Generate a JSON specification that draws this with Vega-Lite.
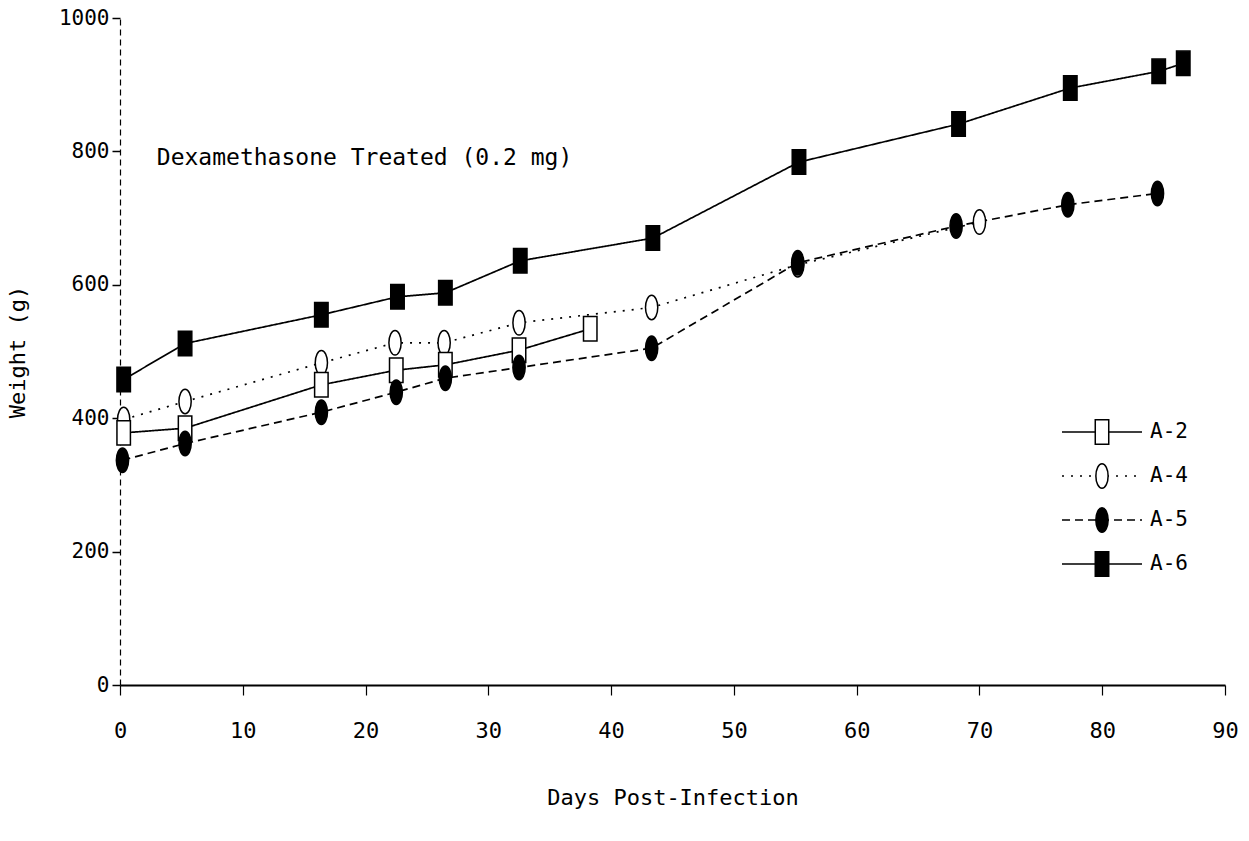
{
  "$schema": "https://vega.github.io/schema/vega-lite/v6.json",
  "autosize": "none",
  "width": 1105,
  "height": 667,
  "padding": {"left": 120, "top": 18, "right": 24, "bottom": 156},
  "background": "white",
  "config": {
    "view": {"stroke": null},
    "font": "DejaVu Sans Mono",
    "axis": {"labelFont": "DejaVu Sans Mono", "titleFont": "DejaVu Sans Mono", "labelColor": "black", "titleColor": "black", "titleFontWeight": "normal", "grid": false, "domainColor": "black", "tickColor": "black", "labelFlush": false}
  },
  "datasets": {
    "weights": [
      {"series": "A-4", "day": 0.3, "weight": 398},
      {"series": "A-4", "day": 5.3, "weight": 425},
      {"series": "A-4", "day": 16.4, "weight": 483},
      {"series": "A-4", "day": 22.4, "weight": 513},
      {"series": "A-4", "day": 26.4, "weight": 513},
      {"series": "A-4", "day": 32.5, "weight": 543},
      {"series": "A-4", "day": 43.3, "weight": 566},
      {"series": "A-4", "day": 55.2, "weight": 630},
      {"series": "A-4", "day": 70.0, "weight": 694},
      {"series": "A-2", "day": 0.3, "weight": 378},
      {"series": "A-2", "day": 5.3, "weight": 385},
      {"series": "A-2", "day": 16.4, "weight": 450},
      {"series": "A-2", "day": 22.5, "weight": 472},
      {"series": "A-2", "day": 26.5, "weight": 480},
      {"series": "A-2", "day": 32.5, "weight": 502},
      {"series": "A-2", "day": 38.3, "weight": 534},
      {"series": "A-5", "day": 0.2, "weight": 337},
      {"series": "A-5", "day": 5.3, "weight": 362},
      {"series": "A-5", "day": 16.4, "weight": 409},
      {"series": "A-5", "day": 22.5, "weight": 439},
      {"series": "A-5", "day": 26.5, "weight": 460},
      {"series": "A-5", "day": 32.5, "weight": 476},
      {"series": "A-5", "day": 43.3, "weight": 505},
      {"series": "A-5", "day": 55.2, "weight": 633},
      {"series": "A-5", "day": 68.1, "weight": 688},
      {"series": "A-5", "day": 77.2, "weight": 720},
      {"series": "A-5", "day": 84.5, "weight": 737},
      {"series": "A-6", "day": 0.3, "weight": 458},
      {"series": "A-6", "day": 5.3, "weight": 512},
      {"series": "A-6", "day": 16.4, "weight": 555},
      {"series": "A-6", "day": 22.6, "weight": 582},
      {"series": "A-6", "day": 26.5, "weight": 588},
      {"series": "A-6", "day": 32.6, "weight": 636},
      {"series": "A-6", "day": 43.4, "weight": 670},
      {"series": "A-6", "day": 55.3, "weight": 784},
      {"series": "A-6", "day": 68.3, "weight": 841},
      {"series": "A-6", "day": 77.4, "weight": 895},
      {"series": "A-6", "day": 84.6, "weight": 920},
      {"series": "A-6", "day": 86.6, "weight": 932}
    ],
    "note": [
      {"day": 3.0, "weight": 790, "label": "Dexamethasone Treated (0.2 mg)"}
    ]
  },
  "encoding": {
    "x": {
      "field": "day", "type": "quantitative",
      "scale": {"domain": [0, 90], "nice": false, "zero": false},
      "axis": {
        "title": "Days Post-Infection", "values": [0, 10, 20, 30, 40, 50, 60, 70, 80, 90],
        "labelFontSize": 22, "titleFontSize": 22, "tickSize": 10, "labelPadding": 25,
        "titlePadding": 46, "domainWidth": 2, "tickWidth": 1.2, "labelFlush": false
      }
    },
    "y": {
      "field": "weight", "type": "quantitative",
      "scale": {"domain": [0, 1000], "nice": false},
      "axis": {
        "title": "Weight (g)", "values": [0, 200, 400, 600, 800, 1000], "format": "d",
        "labelFontSize": 21, "titleFontSize": 22, "tickSize": 8, "labelPadding": 3,
        "titlePadding": 29, "domainDash": [6, 4], "domainWidth": 1.2, "tickWidth": 1.5, "labelFlush": false
      }
    }
  },
  "layer": [
    {
      "data": {"name": "weights"},
      "mark": {"type": "line", "color": "black", "strokeWidth": 1.7},
      "encoding": {
        "detail": {"field": "series"},
        "strokeDash": {
          "field": "series", "type": "nominal",
          "scale": {"range": [[1, 0], [2, 7], [8, 5], [1, 0]]},
          "legend": {
            "orient": "none", "legendX": 941, "legendY": 392, "title": null,
            "symbolType": "stroke", "symbolSize": 6400, "symbolStrokeWidth": 1.7,
            "symbolStrokeColor": "black", "clipHeight": 44, "rowPadding": 0,
            "labelFont": "DejaVu Sans Mono", "labelFontSize": 21, "labelColor": "black",
            "labelOffset": 7, "padding": 0
          }
        }
      }
    },
    {
      "data": {"name": "weights"},
      "mark": {"type": "point", "filled": true, "stroke": "black", "strokeWidth": 1.5, "size": 600, "opacity": 1},
      "encoding": {
        "shape": {
          "field": "series", "type": "nominal",
          "scale": {
            "domain": ["A-2", "A-4", "A-5", "A-6"],
            "range": ["M-0.55,-1H0.55V1H-0.55Z", "M0,-1A0.5,1 0 1,1 0,1A0.5,1 0 1,1 0,-1Z", "M0,-1A0.5,1 0 1,1 0,1A0.5,1 0 1,1 0,-1Z", "M-0.55,-1H0.55V1H-0.55Z"]
          },
          "legend": {
            "orient": "none", "legendX": 969, "legendY": 392, "title": null,
            "symbolSize": 600, "clipHeight": 44, "rowPadding": 0,
            "labelExpr": "''", "labelFontSize": 21, "padding": 0,
            "encode": {"symbols": {"update": {"stroke": {"value": "black"}, "strokeWidth": {"value": 1.5}, "opacity": {"value": 1}}}}
          }
        },
        "fill": {
          "field": "series", "type": "nominal",
          "scale": {"domain": ["A-2", "A-4", "A-5", "A-6"], "range": ["white", "white", "black", "black"]},
          "legend": {
            "orient": "none", "legendX": 969, "legendY": 392, "title": null,
            "symbolSize": 600, "clipHeight": 44, "rowPadding": 0,
            "labelExpr": "''", "labelFontSize": 21, "padding": 0,
            "encode": {"symbols": {"update": {"stroke": {"value": "black"}, "strokeWidth": {"value": 1.5}, "opacity": {"value": 1}}}}
          }
        }
      }
    },
    {
      "data": {"name": "note"},
      "mark": {"type": "text", "align": "left", "baseline": "middle", "font": "DejaVu Sans Mono", "fontSize": 23, "color": "black"},
      "encoding": {"text": {"field": "label"}}
    }
  ]
}
